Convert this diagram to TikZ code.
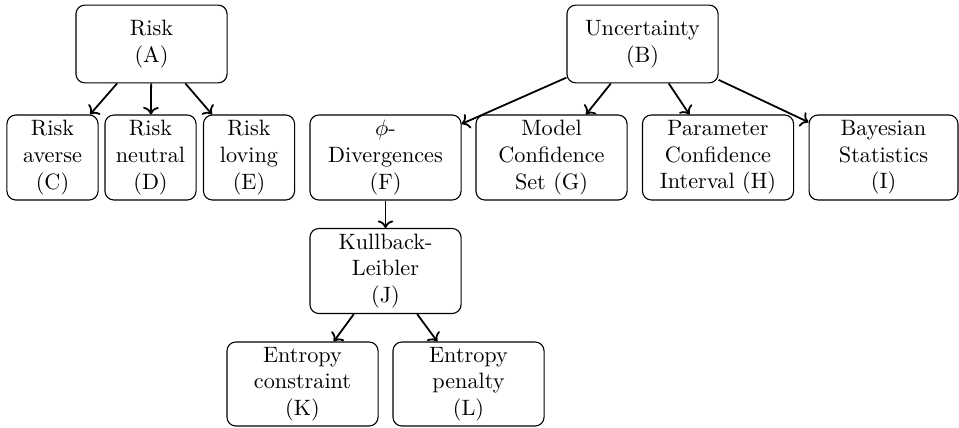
\documentclass[tikz,border=0pt]{standalone}
\usetikzlibrary{arrows.meta}
\begin{document}
\begin{tikzpicture}[x=0.45pt,y=-0.45pt,
  box/.style={draw, line width=0.5pt, rounded corners=4pt, align=center, inner sep=0pt, minimum width=68pt, minimum height=38.25pt},
  small/.style={box, minimum width=41pt},
  top/.style={box, minimum height=35pt},
  link/.style={->, thick, shorten >=0pt}]
\useasboundingbox (0,0) rectangle (959,427);
\node[top] (A) at (151.5,44) {Risk\\(A)};
\node[top] (B) at (642.5,44) {Uncertainty\\(B)};
\node[small] (C) at (52.5,157.5) {Risk\\averse\\(C)};
\node[small] (D) at (150.5,157.5) {Risk\\neutral\\(D)};
\node[small] (E) at (249,157.5) {Risk\\loving\\(E)};
\node[box] (F) at (385.5,157.5) {$\phi$-\\Divergences\\(F)};
\node[box] (G) at (551.5,157.5) {Model\\Confidence\\Set (G)};
\node[box] (H) at (718,157.5) {Parameter\\Confidence\\Interval (H)};
\node[box, minimum width=67pt] (I) at (883.5,157.5) {Bayesian\\Statistics\\(I)};
\node[box] (J) at (385.5,271) {Kullback-\\Leibler\\(J)};
\node[box, minimum height=37.8pt] (K) at (302.5,384) {Entropy\\constraint\\(K)};
\node[box, minimum height=37.8pt] (L) at (468.5,384) {Entropy\\penalty\\(L)};
\draw[link] (A) -- (C);
\draw[link] (A) -- (D);
\draw[link] (A) -- (E);
\draw[link] (B) -- (F);
\draw[link] (B) -- (G);
\draw[link] (B) -- (H);
\draw[link] (B) -- (I);
\draw[link] (F) -- (J);
\draw[link] (J) -- (K);
\draw[link] (J) -- (L);
\end{tikzpicture}
\end{document}
